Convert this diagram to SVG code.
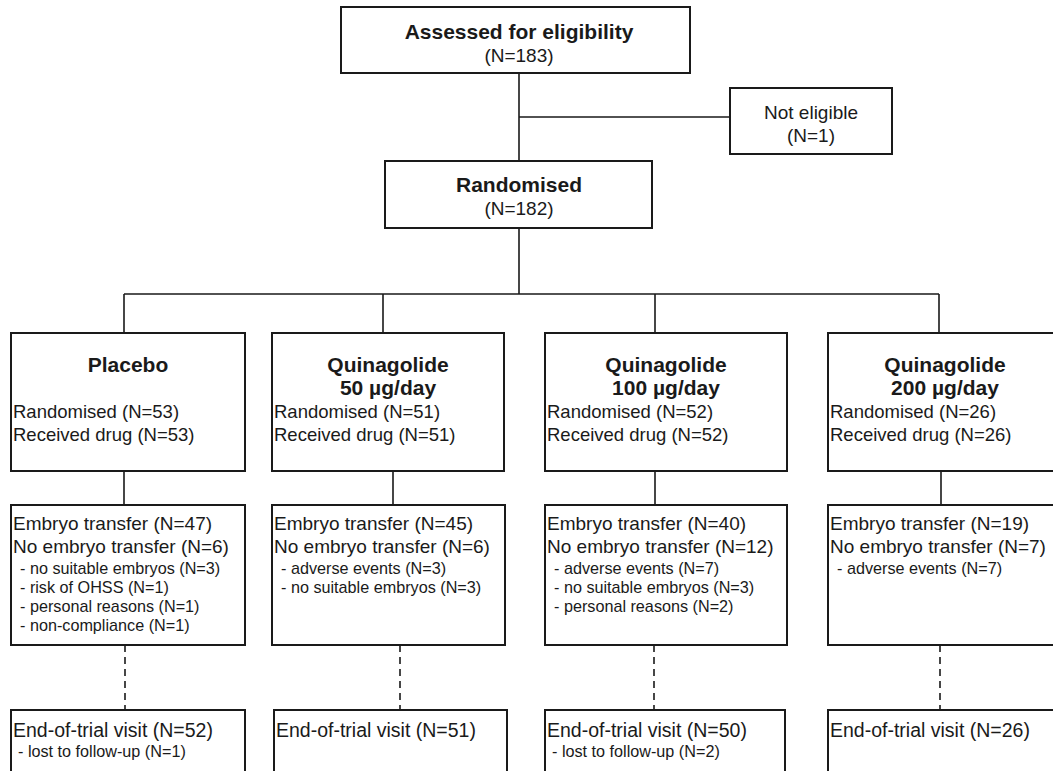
<svg xmlns="http://www.w3.org/2000/svg" width="1053" height="771" viewBox="0 0 1053 771">
<style>
.box{fill:#fff;stroke:#1a1a1a;stroke-width:2}
.ln{fill:none;stroke:#1a1a1a;stroke-width:1.6}
.dash{fill:none;stroke:#1a1a1a;stroke-width:1.6;stroke-dasharray:7 5}
text{font-family:"Liberation Sans",Arial,sans-serif;fill:#1a1a1a}
.t{font-size:21px;font-weight:bold;text-anchor:middle}
.c{font-size:19px;text-anchor:middle}
.n{font-size:18.5px}
.s{font-size:16.2px}
.e{font-size:19px}
.f{font-size:19.5px}
</style>
<rect width="1053" height="771" fill="#fff"/>
<g id="connectors">
<path class="ln" d="M519 73V161M519 117H730M519 228V294M124 294H939M124 294V333M383 294V333M655 294V333M939 294V333"/>
<path class="ln" d="M124 471V505M393 471V505M655 471V505M941 471V505"/>
<path class="dash" d="M125 645V710M400 645V710M654 645V710M940 645V710"/>
</g>
<g id="assessed">
<rect class="box" x="341" y="7" width="349" height="66"/>
<text class="t" x="519" y="39">Assessed for eligibility</text>
<text class="c" x="519" y="62">(N=183)</text>
</g>
<g id="not-eligible">
<rect class="box" x="730" y="88" width="162" height="66"/>
<text class="c" x="811" y="119">Not eligible</text>
<text class="c" x="811" y="142">(N=1)</text>
</g>
<g id="randomised">
<rect class="box" x="385" y="161" width="267" height="67"/>
<text class="t" x="519" y="192">Randomised</text>
<text class="c" x="519" y="215">(N=182)</text>
</g>
<g id="placebo">
<rect class="box" x="11" y="333" width="234" height="138"/>
<text class="t" x="128" y="372">Placebo</text>
<text class="n" x="13" y="418">Randomised (N=53)</text>
<text class="n" x="13" y="441">Received drug (N=53)</text>
</g>
<g id="q50">
<rect class="box" x="272" y="333" width="232" height="138"/>
<text class="t" x="388" y="372">Quinagolide</text>
<text class="t" x="388" y="395">50 µg/day</text>
<text class="n" x="274" y="418">Randomised (N=51)</text>
<text class="n" x="274" y="441">Received drug (N=51)</text>
</g>
<g id="q100">
<rect class="box" x="545" y="333" width="242" height="138"/>
<text class="t" x="666" y="372">Quinagolide</text>
<text class="t" x="666" y="395">100 µg/day</text>
<text class="n" x="547" y="418">Randomised (N=52)</text>
<text class="n" x="547" y="441">Received drug (N=52)</text>
</g>
<g id="q200">
<rect class="box" x="828" y="333" width="240" height="138"/>
<text class="t" x="945" y="372">Quinagolide</text>
<text class="t" x="945" y="395">200 µg/day</text>
<text class="n" x="830" y="418">Randomised (N=26)</text>
<text class="n" x="830" y="441">Received drug (N=26)</text>
</g>
<g id="placebo-transfer">
<rect class="box" x="11" y="505" width="234" height="140"/>
<text class="e" x="13" y="530">Embryo transfer (N=47)</text>
<text class="e" x="13" y="553">No embryo transfer (N=6)</text>
<text class="s" x="20" y="574">- no suitable embryos (N=3)</text>
<text class="s" x="20" y="593">- risk of OHSS (N=1)</text>
<text class="s" x="20" y="612">- personal reasons (N=1)</text>
<text class="s" x="20" y="631">- non-compliance (N=1)</text>
</g>
<g id="q50-transfer">
<rect class="box" x="272" y="505" width="233" height="140"/>
<text class="e" x="274" y="530">Embryo transfer (N=45)</text>
<text class="e" x="274" y="553">No embryo transfer (N=6)</text>
<text class="s" x="281" y="574">- adverse events (N=3)</text>
<text class="s" x="281" y="593">- no suitable embryos (N=3)</text>
</g>
<g id="q100-transfer">
<rect class="box" x="545" y="505" width="242" height="140"/>
<text class="e" x="547" y="530">Embryo transfer (N=40)</text>
<text class="e" x="547" y="553">No embryo transfer (N=12)</text>
<text class="s" x="554" y="574">- adverse events (N=7)</text>
<text class="s" x="554" y="593">- no suitable embryos (N=3)</text>
<text class="s" x="554" y="612">- personal reasons (N=2)</text>
</g>
<g id="q200-transfer">
<rect class="box" x="828" y="505" width="240" height="140"/>
<text class="e" x="830" y="530">Embryo transfer (N=19)</text>
<text class="e" x="830" y="553">No embryo transfer (N=7)</text>
<text class="s" x="837" y="574">- adverse events (N=7)</text>
</g>
<g id="placebo-end">
<rect class="box" x="11" y="710" width="234" height="80"/>
<text class="f" x="13" y="737">End-of-trial visit (N=52)</text>
<text class="s" x="18" y="757">- lost to follow-up (N=1)</text>
</g>
<g id="q50-end">
<rect class="box" x="274" y="710" width="233" height="80"/>
<text class="f" x="276" y="737">End-of-trial visit (N=51)</text>
</g>
<g id="q100-end">
<rect class="box" x="545" y="710" width="240" height="80"/>
<text class="f" x="547" y="737">End-of-trial visit (N=50)</text>
<text class="s" x="552" y="757">- lost to follow-up (N=2)</text>
</g>
<g id="q200-end">
<rect class="box" x="828" y="710" width="240" height="80"/>
<text class="f" x="830" y="737">End-of-trial visit (N=26)</text>
</g>
</svg>
